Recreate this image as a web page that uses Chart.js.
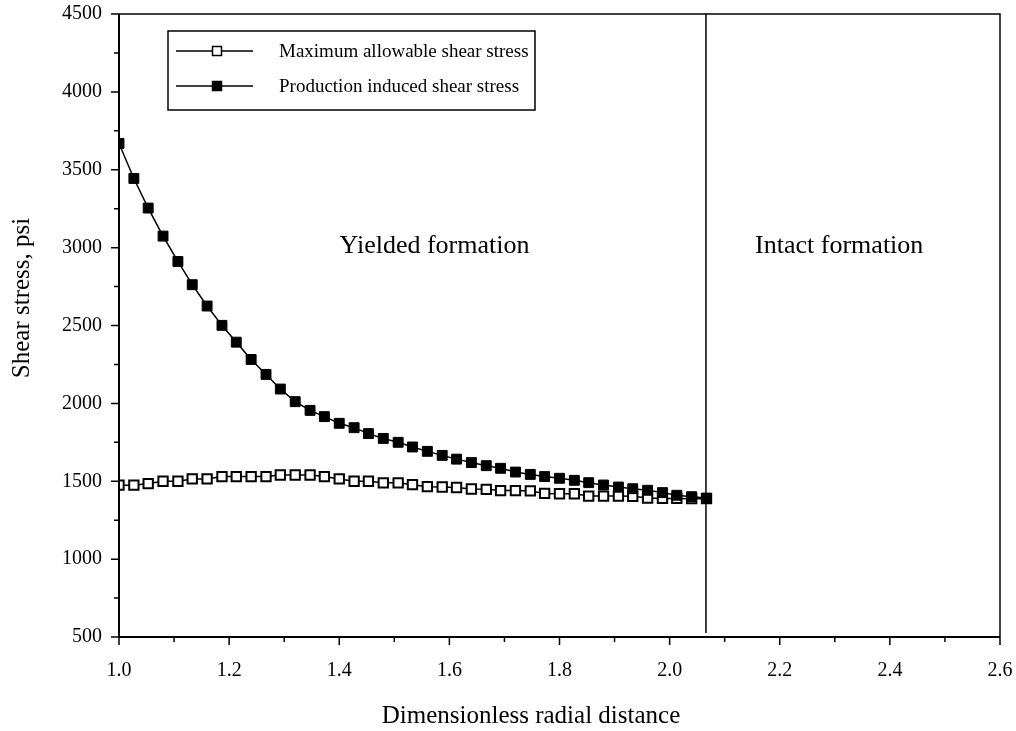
<!DOCTYPE html>
<html>
<head>
<meta charset="utf-8">
<script src="https://cdn.jsdelivr.net/npm/chart.js@4.4.1/dist/chart.umd.min.js"></script>
<style>
    body { margin: 0; background: #fff; }
    #wrap { width: 1016px; height: 731px; }
</style>
</head>
<body>
<div id="wrap"><canvas id="chart" width="1016" height="731"></canvas></div>
<script>
// Dimensionless radial distance r/rw for each computed point
const radialDistance = [
    1.000, 1.027, 1.053, 1.080, 1.107, 1.133, 1.160, 1.187, 1.213, 1.240,
    1.267, 1.293, 1.320, 1.347, 1.373, 1.400, 1.427, 1.453, 1.480, 1.507,
    1.533, 1.560, 1.587, 1.613, 1.640, 1.667, 1.693, 1.720, 1.747, 1.773,
    1.800, 1.827, 1.853, 1.880, 1.907, 1.933, 1.960, 1.987, 2.013, 2.040,
    2.067
];

// Maximum allowable shear stress, psi (open squares)
const allowableStress = [
    1475, 1475, 1485, 1500, 1500, 1515, 1515, 1530, 1530, 1530,
    1530, 1540, 1540, 1540, 1530, 1515, 1500, 1500, 1490, 1490,
    1478, 1465, 1463, 1460, 1450, 1448, 1440, 1440, 1438, 1422,
    1420, 1420, 1405, 1405, 1405, 1403, 1392, 1390, 1390, 1388,
    1388
];

// Production induced shear stress, psi (filled squares)
const inducedStress = [
    3669, 3444, 3254, 3074, 2911, 2762, 2625, 2501, 2393, 2282,
    2186, 2092, 2011, 1955, 1915, 1872, 1844, 1806, 1775, 1750,
    1720, 1692, 1666, 1642, 1620, 1600, 1583, 1559, 1544, 1530,
    1519, 1506, 1491, 1476, 1463, 1452, 1442, 1427, 1410, 1401,
    1392
];

const seriesNames = ['Maximum allowable shear stress', 'Production induced shear stress'];
const regionLabels = ['Yielded formation', 'Intact formation'];
const yieldRadius = 2.066;
const xTitle = 'Dimensionless radial distance';
const yTitle = 'Shear stress, psi';

const serif = '"Liberation Serif", "Times New Roman", serif';

// frame, minor/major ticks, boundary line, labels and legend
const decorations = {
    id: 'decorations',
    afterDraw(chart) {
        const ctx = chart.ctx;
        const a = chart.chartArea;
        const xs = chart.scales.x;
        const ys = chart.scales.y;
        ctx.save();
        ctx.strokeStyle = '#000';
        ctx.fillStyle = '#000';

        // frame
        ctx.lineWidth = 1.5;
        ctx.beginPath();
        ctx.moveTo(a.left, a.top);
        ctx.lineTo(a.right, a.top);
        ctx.lineTo(a.right, a.bottom);
        ctx.stroke();
        ctx.lineWidth = 2;
        ctx.beginPath();
        ctx.moveTo(a.left, a.top);
        ctx.lineTo(a.left, a.bottom);
        ctx.lineTo(a.right, a.bottom);
        ctx.stroke();

        // ticks (major on labelled values, minor halfway)
        ctx.lineWidth = 1.5;
        ctx.beginPath();
        for (let i = 0; i <= 16; i++) {
            const y = ys.getPixelForValue(500 + i * 250);
            const len = i % 2 === 0 ? 8 : 5;
            ctx.moveTo(a.left - len, y);
            ctx.lineTo(a.left, y);
        }
        for (let i = 0; i <= 16; i++) {
            const x = xs.getPixelForValue(1 + i * 0.1);
            const len = i % 2 === 0 ? 8 : 5;
            ctx.moveTo(x, a.bottom);
            ctx.lineTo(x, a.bottom + len);
        }
        ctx.stroke();

        // yielded / intact boundary
        const bx = xs.getPixelForValue(yieldRadius);
        ctx.lineWidth = 1.5;
        ctx.beginPath();
        ctx.moveTo(bx, a.top);
        ctx.lineTo(bx, a.bottom - 4);
        ctx.stroke();

        // region labels
        ctx.font = '26px ' + serif;
        ctx.textAlign = 'center';
        ctx.textBaseline = 'middle';
        ctx.fillText(regionLabels[0], xs.getPixelForValue(1.573), ys.getPixelForValue(3010));
        ctx.fillText(regionLabels[1], xs.getPixelForValue(2.308), ys.getPixelForValue(3010));

        // axis titles
        ctx.font = '25px ' + serif;
        ctx.fillText(xTitle, 531, 716);
        ctx.save();
        ctx.translate(22, 298);
        ctx.rotate(-Math.PI / 2);
        ctx.fillText(yTitle, 0, 0);
        ctx.restore();

        // legend
        ctx.lineWidth = 1.5;
        ctx.strokeRect(168, 31, 367, 79);
        const rows = [51, 86];
        ctx.font = '19px ' + serif;
        ctx.textAlign = 'left';
        rows.forEach((ry, i) => {
            ctx.beginPath();
            ctx.moveTo(176, ry);
            ctx.lineTo(253, ry);
            ctx.stroke();
            ctx.fillStyle = i === 0 ? '#fff' : '#000';
            ctx.fillRect(212.5, ry - 4.5, 9, 9);
            ctx.strokeRect(212.5, ry - 4.5, 9, 9);
            ctx.fillStyle = '#000';
            ctx.fillText(seriesNames[i], 279, ry + 1);
        });

        ctx.restore();
    }
};

new Chart(document.getElementById('chart'), {
    type: 'line',
    data: {
        datasets: [{
            label: seriesNames[1],
            data: radialDistance.map((x, i) => ({ x: x, y: inducedStress[i] })),
            order: 0,
            borderColor: '#000',
            borderWidth: 1.5,
            pointStyle: 'rect',
            pointRadius: 7,
            pointBackgroundColor: '#000',
            pointBorderColor: '#000',
            pointBorderWidth: 1,
            tension: 0
        }, {
            label: seriesNames[0],
            data: radialDistance.map((x, i) => ({ x: x, y: allowableStress[i] })),
            order: 1,
            borderColor: '#000',
            borderWidth: 1.5,
            pointStyle: 'rect',
            pointRadius: 6.6,
            pointBackgroundColor: '#fff',
            pointBorderColor: '#000',
            pointBorderWidth: 2,
            tension: 0
        }]
    },
    options: {
        responsive: false,
        animation: false,
        layout: { padding: 0 },
        plugins: {
            legend: { display: false },
            tooltip: { enabled: false }
        },
        scales: {
            x: {
                type: 'linear',
                min: 1.0,
                max: 2.6,
                grid: { display: false },
                border: { display: false },
                ticks: {
                    stepSize: 0.2,
                    padding: 14,
                    color: '#000',
                    font: { family: serif, size: 20 },
                    maxRotation: 0,
                    callback: v => v.toFixed(1)
                },
                afterFit: s => {
                    s.height = 94;
                    s.paddingLeft = 0;
                    s.paddingRight = 16;
                }
            },
            y: {
                min: 500,
                max: 4500,
                grid: { display: false },
                border: { display: false },
                ticks: {
                    stepSize: 500,
                    padding: 9,
                    color: '#000',
                    font: { family: serif, size: 20 },
                    callback: v => String(v)
                },
                afterFit: s => {
                    s.width = 119;
                    s.paddingTop = 14;
                    s.paddingBottom = 0;
                }
            }
        }
    },
    plugins: [decorations]
});
</script>
</body>
</html>
